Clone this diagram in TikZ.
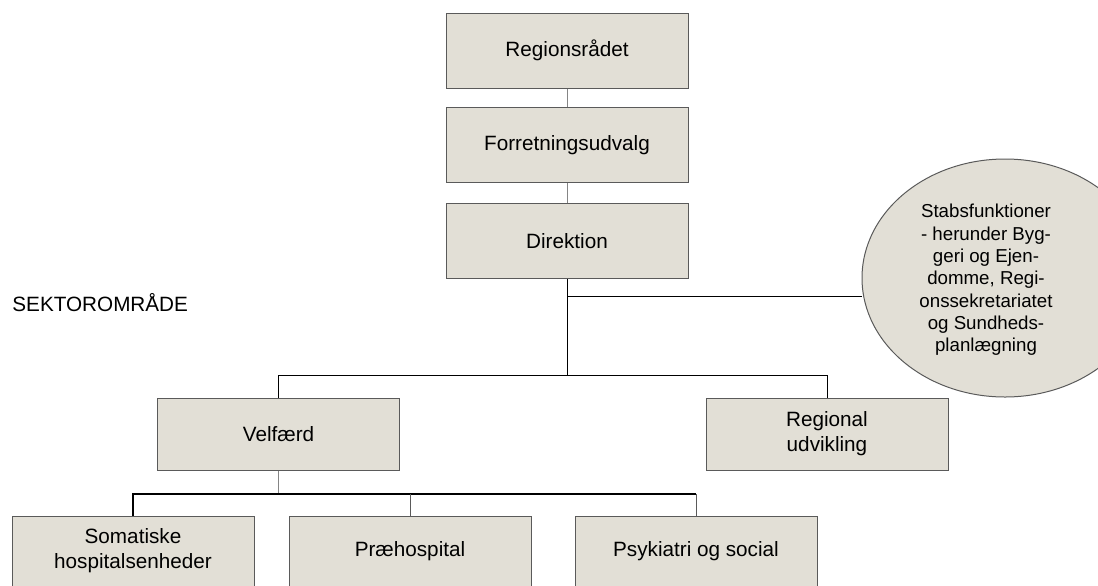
\documentclass[tikz,border=0pt]{standalone}
\usepackage{fontspec}
\setmainfont{Liberation Sans}
\usetikzlibrary{shapes.geometric}
\definecolor{boxfill}{HTML}{E2DFD6}
\definecolor{boxline}{HTML}{5A5A5A}
\definecolor{thinline}{HTML}{858585}

\begin{document}
\begin{tikzpicture}[x=0.5pt,y=-0.5pt,
		orgbox/.style={draw=boxline,fill=boxfill,line width=0.5pt,minimum width=121pt,minimum height=37.5pt,inner sep=0pt,align=center,font=\fontsize{10.35}{12.5}\selectfont},
		lowbox/.style={orgbox,minimum height=36pt},
		stabshape/.style={ellipse,draw=boxline,fill=boxfill,line width=0.5pt,minimum width=143pt,minimum height=119pt,inner sep=0pt},
		stabtext/.style={align=center,inner sep=0pt,font=\fontsize{9.35}{11.15}\selectfont},
		link/.style={line width=0.5pt}]
				\useasboundingbox (0,0) rectangle (1098,585);
				
				\node[orgbox] (rr) at (567,50.5) {Regionsrådet};
				\node[orgbox] (fu) at (567,145) {Forretningsudvalg};
				\node[orgbox] (dir) at (567,241) {Direktion};
				
				\node[stabshape] (stab) at (1005,278) {};
				\node[stabtext] (stabtxt) at (986,280) {Stabsfunktioner\\- herunder Byg-\\geri og Ejen-\\domme, Regi-\\onssekretariatet\\og Sundheds-\\planlægning};
				
				\node[anchor=west,inner sep=0pt,font=\fontsize{10.35}{12.5}\selectfont] (sektor) at (12,303) {SEKTOROMRÅDE};
				
				\node[lowbox] (velf) at (278.5,434) {Velfærd};
				\node[lowbox] (regu) at (827,434) {Regional\\udvikling};
				
				\node[orgbox,minimum height=35pt] (soma) at (133,551) {Somatiske\\hospitalsenheder};
				\node[orgbox,minimum height=35pt] (prae) at (410,551) {Præhospital};
				\node[orgbox,minimum height=35pt] (psyk) at (696,551) {Psykiatri og social};
				
				\coordinate (jstab) at (567,296);
				\coordinate (jsek) at (567,375);
				\coordinate (jvelf) at (278.5,494);
				
				\draw[link,thinline] (rr) -- (fu);
				\draw[link,thinline] (fu) -- (dir);
				\draw[link] (dir.south) -- (jsek);
				\draw[link] (jstab) -- (jstab -| stab.west);
				\draw[link] (velf.north) |- (jsek) -| (regu.north);
				
				\draw[link,thinline] (velf.south) -- (jvelf);
				\draw[line width=1pt] (soma.north) |- (jvelf) -- (jvelf -| psyk.north);
				\draw[link,boxline] (jvelf -| prae.north) -- (prae.north);
				\draw[link,boxline] (jvelf -| psyk.north) -- (psyk.north);
			\end{tikzpicture}
\end{document}
